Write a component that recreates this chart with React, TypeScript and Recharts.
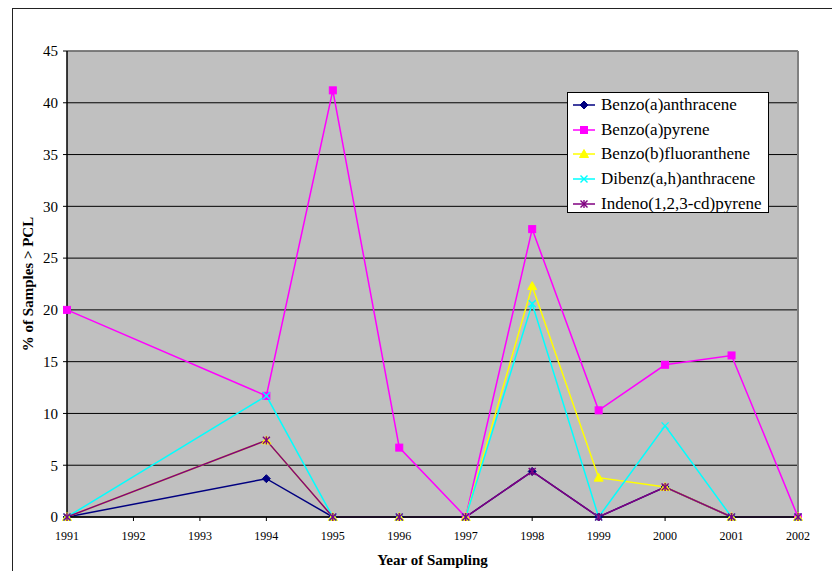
import React from 'react'
import { LineChart, Line, XAxis, YAxis, CartesianGrid, Legend, ReferenceLine } from 'recharts'

// years on the category axis (1992 and 1993 have no samples)
const years = ['1991', '1992', '1993', '1994', '1995', '1996', '1997', '1998', '1999', '2000', '2001', '2002']

const benzoAAnthracene = [0, null, null, 3.7, 0, 0, 0, 4.4, 0, 2.9, 0, 0]
const benzoAPyrene = [20, null, null, 11.7, 41.2, 6.7, 0, 27.8, 10.3, 14.7, 15.6, 0]
const benzoBFluoranthene = [0, null, null, 7.4, 0, 0, 0, 22.3, 3.8, 2.9, 0, 0]
const dibenzAHAnthracene = [0, null, null, 11.7, 0, 0, 0, 20.6, 0, 8.8, 0, 0]
const indenoPyrene = [0, null, null, 7.4, 0, 0, 0, 4.4, 0, 2.9, 0, 0]

const yTicks = [0, 5, 10, 15, 20, 25, 30, 35, 40, 45]

const seriesList = [
  { key: 'baa', name: 'Benzo(a)anthracene', color: '#000080', shape: 'diamond', values: benzoAAnthracene },
  { key: 'bap', name: 'Benzo(a)pyrene', color: '#FF00FF', shape: 'square', values: benzoAPyrene },
  { key: 'bbf', name: 'Benzo(b)fluoranthene', color: '#FFFF00', shape: 'triangle', values: benzoBFluoranthene },
  { key: 'daha', name: 'Dibenz(a,h)anthracene', color: '#00FFFF', shape: 'cross', values: dibenzAHAnthracene },
  { key: 'icdp', name: 'Indeno(1,2,3-cd)pyrene', color: '#800080', shape: 'star', values: indenoPyrene },
]

const data = years.map((year, i) => {
  const row: any = { year }
  seriesList.forEach((s) => { row[s.key] = s.values[i] })
  return row
})

const FONT = '"Liberation Serif", "Times New Roman", serif'

function marker(shape: string, color: string, cx: number, cy: number, key?: any) {
  switch (shape) {
    case 'diamond':
      return <polygon key={key} points={`${cx},${cy - 4} ${cx + 4},${cy} ${cx},${cy + 4} ${cx - 4},${cy}`} fill={color} stroke={color} />
    case 'square':
      return <rect key={key} x={cx - 3.5} y={cy - 3.5} width={7} height={7} fill={color} stroke={color} />
    case 'triangle':
      return <polygon key={key} points={`${cx},${cy - 4.5} ${cx + 4.5},${cy + 3.5} ${cx - 4.5},${cy + 3.5}`} fill={color} stroke={color} />
    case 'cross':
      return (
        <g key={key} stroke={color} strokeWidth={1.4}>
          <line x1={cx - 3.5} y1={cy - 3.5} x2={cx + 3.5} y2={cy + 3.5} />
          <line x1={cx - 3.5} y1={cy + 3.5} x2={cx + 3.5} y2={cy - 3.5} />
        </g>
      )
    default:
      return (
        <g key={key} stroke={color} strokeWidth={1.4}>
          <line x1={cx - 3.5} y1={cy - 3.5} x2={cx + 3.5} y2={cy + 3.5} />
          <line x1={cx - 3.5} y1={cy + 3.5} x2={cx + 3.5} y2={cy - 3.5} />
          <line x1={cx} y1={cy - 4} x2={cx} y2={cy + 4} />
        </g>
      )
  }
}

function makeDot(shape: string, color: string) {
  return (props: any) => {
    const { cx, cy, index, value } = props
    if (cx == null || cy == null || value == null || isNaN(cy)) return <g key={`d-${index}`} />
    return marker(shape, color, cx, cy, `d-${index}`)
  }
}

function LegendBox(props: any) {
  const payload = props.payload || []
  return (
    <div style={{ width: 202, height: 121, background: '#fff', border: '1px solid #000', boxSizing: 'border-box', fontFamily: FONT, fontSize: 17, color: '#000' }}>
      {payload.map((entry: any, i: number) => {
        const s = seriesList.find((x) => x.name === entry.value) || seriesList[i]
        return (
          <div key={s.key} style={{ height: 24.6, display: 'flex', alignItems: 'center', whiteSpace: 'nowrap' }}>
            <svg width={32} height={14} style={{ flex: 'none' }}>
              <line x1={5} y1={7} x2={27} y2={7} stroke={s.color} strokeWidth={1.5} />
              {marker(s.shape, s.color, 16, 7)}
            </svg>
            <span style={{ marginLeft: 1 }}>{s.name}</span>
          </div>
        )
      })}
    </div>
  )
}

export default function App() {
  return (
    <div style={{ position: 'absolute', left: 0, top: 0, width: 832, height: 571, background: '#fff', overflow: 'hidden' }}>
      <div style={{ position: 'absolute', left: 12, top: 8, width: 840, height: 580, borderLeft: '1.5px solid #222', borderTop: '1.5px solid #222' }} />
      <div style={{ position: 'absolute', left: 0, top: 0 }}>
        <LineChart width={832} height={571} data={data} margin={{ top: 51, right: 34, bottom: 24, left: 0 }} style={{ fontFamily: FONT }}>
          <CartesianGrid vertical={false} stroke="#000" fill="#C0C0C0" fillOpacity={1} />
          <ReferenceLine y={45} stroke="#808080" strokeWidth={1.5} />
          <ReferenceLine x="2002" stroke="#808080" strokeWidth={2} />
          <XAxis
            dataKey="year"
            interval={0}
            height={30}
            tickSize={4}
            tickMargin={10}
            axisLine={{ stroke: '#000', strokeWidth: 1.5 }}
            tickLine={{ stroke: '#000' }}
            tick={{ fill: '#000', fontSize: 12, fontFamily: FONT }}
            label={{ value: 'Year of Sampling', position: 'bottom', offset: 7, fill: '#000', fontSize: 15, fontWeight: 'bold', fontFamily: FONT }}
          />
          <YAxis
            width={67}
            domain={[0, 45]}
            ticks={yTicks}
            interval={0}
            tickSize={4}
            tickMargin={5}
            axisLine={{ stroke: '#000', strokeWidth: 1.5 }}
            tickLine={{ stroke: '#000' }}
            tick={{ fill: '#000', fontSize: 15, fontFamily: FONT }}
            label={{ value: '% of Samples > PCL', angle: -90, position: 'insideLeft', offset: 28, fill: '#000', fontSize: 15, fontWeight: 'bold', fontFamily: FONT, style: { textAnchor: 'middle' } }}
          />
          <Legend
            layout="vertical"
            align="center"
            verticalAlign="middle"
            content={<LegendBox />}
            wrapperStyle={{ left: 567, top: 92, width: 202, height: 121 }}
          />
          {seriesList.map((s) => (
            <Line
              key={s.key}
              dataKey={s.key}
              name={s.name}
              type="linear"
              stroke={s.color}
              strokeWidth={1.5}
              dot={makeDot(s.shape, s.color)}
              activeDot={false}
              connectNulls
              isAnimationActive={false}
            />
          ))}
        </LineChart>
      </div>
    </div>
  )
}
